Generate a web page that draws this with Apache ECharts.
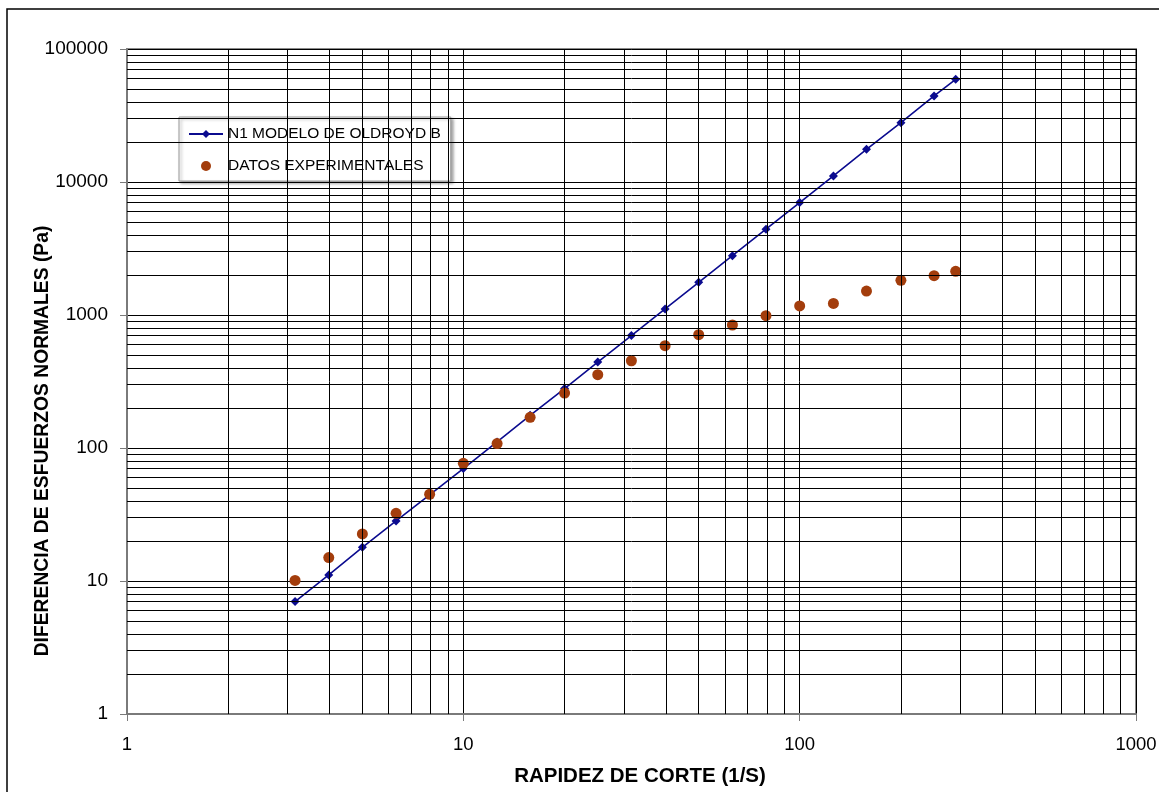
<!DOCTYPE html>
<html>
<head>
<meta charset="utf-8">
<script src="https://cdn.jsdelivr.net/npm/echarts@6/dist/echarts.min.js"></script>
<style>
  html, body { margin: 0; padding: 0; background: #fff; }
  #chart { width: 1159px; height: 792px; }
</style>
</head>
<body>
<div id="chart"></div>
<script>
// ---- Data ----
const shearRate = [3.16, 3.98, 5.01, 6.31, 7.94, 10, 12.6, 15.8, 20, 25.1, 31.6, 39.8, 50.1, 63.1, 79.4, 100, 126, 158, 200, 251, 291];
const n1Model = [7.0, 11.1, 17.9, 28.3, 44.5, 70, 111, 176, 280, 443, 700, 1110, 1760, 2790, 4420, 7000, 11100, 17600, 27900, 44400, 59200];
const experimental = [10.1, 15, 22.6, 32.3, 44.9, 76.7, 108, 170, 259, 356, 453, 588, 711, 841, 988, 1169, 1222, 1514, 1823, 1975, 2132];
const seriesNames = ['N1 MODELO DE OLDROYD B', 'DATOS EXPERIMENTALES'];
const xTitle = 'RAPIDEZ DE CORTE (1/S)';
const yTitle = 'DIFERENCIA DE ESFUERZOS NORMALES (Pa)';
const xRange = [1, 1000];
const yRange = [1, 100000];

// minor log gridlines (2..9 within each decade)
function minorValues(min, max) {
  const out = [];
  for (let d = min; d < max; d *= 10) {
    for (let k = 2; k <= 9; k++) out.push(k * d);
  }
  return out;
}
const minorX = minorValues(xRange[0], xRange[1]);
const minorY = minorValues(yRange[0], yRange[1]);

const FONT = 'Liberation Sans';
const chart = echarts.init(document.getElementById('chart'), null, { renderer: 'canvas' });

const gridLineData = minorX.map(v => ({ xAxis: v })).concat(minorY.map(v => ({ yAxis: v })));

chart.setOption({
  backgroundColor: '#ffffff',
  animation: false,
  textStyle: { fontFamily: FONT, color: '#000' },
  graphic: [
    {
      type: 'rect',
      shape: { x: 7, y: 9, width: 1200, height: 900 },
      style: { fill: 'none', stroke: '#000', lineWidth: 1.5 },
      silent: true,
      z: -10
    },
    {
      type: 'text',
      x: 640, y: 776,
      style: { text: xTitle, font: 'bold 20.5px "Liberation Sans"', fill: '#000',
               align: 'center', verticalAlign: 'middle' },
      silent: true
    },
    {
      type: 'text',
      x: 43, y: 441,
      rotation: Math.PI / 2,
      style: { text: yTitle, font: 'bold 19.3px "Liberation Sans"', fill: '#000',
               align: 'center', verticalAlign: 'middle' },
      silent: true
    }
  ],
  grid: {
    left: 127, top: 49, width: 1009, height: 665,
    outerBoundsMode: 'none',
    containLabel: false,
    show: true, borderColor: '#8a8a8a', borderWidth: 2, backgroundColor: 'transparent'
  },
  legend: {
    left: 179, top: 117,
    orient: 'vertical',
    padding: [9, 10, 7, 9],
    itemWidth: 34, itemHeight: 10, itemGap: 16,
    backgroundColor: '#fff',
    borderColor: '#9a9a9a', borderWidth: 1,
    shadowColor: 'rgba(0,0,0,0.35)', shadowBlur: 3, shadowOffsetX: 2, shadowOffsetY: 2,
    textStyle: { fontFamily: FONT, fontSize: 15.5, color: '#000' },
    data: seriesNames
  },
  xAxis: {
    type: 'log', logBase: 10, min: xRange[0], max: xRange[1],
    axisLine: { show: true, lineStyle: { color: '#7a7a7a', width: 2 } },
    axisTick: { show: true, inside: false, length: 7, lineStyle: { color: '#7a7a7a', width: 1 } },
    axisLabel: { fontFamily: FONT, fontSize: 18.5, color: '#000', margin: 21,
      formatter: v => String(Math.round(v)) },
    splitLine: { show: true, lineStyle: { color: '#000', width: 1 } },
    minorTick: { show: false }, minorSplitLine: { show: false }
  },
  yAxis: {
    type: 'log', logBase: 10, min: yRange[0], max: yRange[1],
    axisLine: { show: true, lineStyle: { color: '#7a7a7a', width: 2 } },
    axisTick: { show: true, inside: false, length: 7, lineStyle: { color: '#7a7a7a', width: 1 } },
    axisLabel: { fontFamily: FONT, fontSize: 19, color: '#000', margin: 19,
      formatter: v => String(Math.round(v)) },
    splitLine: { show: true, lineStyle: { color: '#000', width: 1 } },
    minorTick: { show: false }, minorSplitLine: { show: false }
  },
  series: [
    {
      name: '__grid',
      type: 'line',
      data: [],
      silent: true,
      z: 1,
      markLine: {
        silent: true,
        symbol: ['none', 'none'],
        label: { show: false },
        lineStyle: { color: '#000', width: 1, type: 'solid' },
        emphasis: { disabled: true },
        animation: false,
        data: gridLineData
      }
    },
    {
      name: seriesNames[0],
      type: 'line',
      z: 3,
      data: shearRate.map((x, i) => [x, n1Model[i]]),
      symbol: 'diamond', symbolSize: 9,
      lineStyle: { color: '#0b0b8f', width: 1.6 },
      itemStyle: { color: '#0b0b8f' }
    },
    {
      name: seriesNames[1],
      type: 'scatter',
      z: 4,
      data: shearRate.map((x, i) => [x, experimental[i]]),
      symbol: 'circle', symbolSize: 11,
      itemStyle: { color: '#a33d0c', opacity: 1 }
    }
  ]
});
</script>
</body>
</html>
